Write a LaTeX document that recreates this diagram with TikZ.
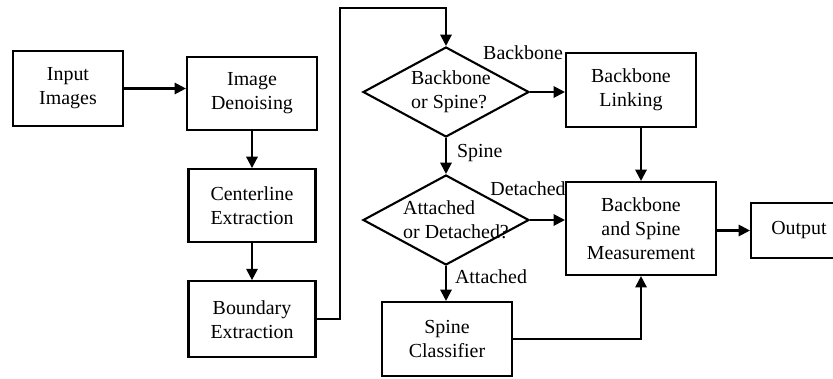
\documentclass[tikz,border=0pt]{standalone}
\usepackage{fontspec}
\setmainfont{Liberation Serif}
\usepackage{tikz}
\usetikzlibrary{positioning,arrows.meta,shapes.geometric,calc}
\tikzset{
  flow/.style={rectangle,draw=black,line width=1.8pt,align=center,inner sep=0pt,font=\fontsize{17}{20.5}\selectfont},
  decision/.style={diamond,draw=black,line width=1.8pt,inner sep=0pt,minimum width=49.8mm,minimum height=27mm},
  dtext/.style={align=left,inner sep=0pt,font=\fontsize{17}{20.5}\selectfont},
  tag/.style={inner sep=0pt,font=\fontsize{17}{20.5}\selectfont},
  edge/.style={-{Triangle[length=3.4mm,width=3.4mm]},line width=1.8pt}
}
\begin{document}
\begin{tikzpicture}[x=0.3mm,y=-0.3mm,node distance=11.1mm]
  \useasboundingbox (0,0) rectangle (833,378);
  \node[flow,minimum width=33mm,minimum height=22.5mm] (input) at (68,88.5) {Input\\Images};
  \node[flow,minimum width=39mm,minimum height=21.9mm] (denoise) at (252,93.5) {Image\\Denoising};
  \node[flow,minimum width=38.1mm,minimum height=21.9mm,below=of denoise] (center) {Centerline\\Extraction};
  \node[flow,minimum width=38.1mm,minimum height=22.8mm,below=of center] (bound) {Boundary\\Extraction};

  \node[decision,label={[dtext,xshift=1.5mm]center:Backbone\\or Spine?}] (dec1) at (446,92) {};
  \node[decision,label={[dtext,xshift=3mm]center:Attached\\or Detached?}] (dec2) at (446,220) {};
  \node[flow,minimum width=39mm,minimum height=22.2mm] (link) at (631,90) {Backbone\\Linking};
  \node[flow,minimum width=45mm,minimum height=27.9mm] (meas) at (641,228.5) {Backbone\\and Spine\\Measurement};
  \node[flow,minimum width=28.8mm,minimum height=16.5mm] (out) at (799,230.5) {Output};
  \node[flow,minimum width=39mm,minimum height=22.2mm] (class) at (447,339) {Spine\\Classifier};

  \coordinate (turn) at (340,8);

  \draw[edge] (input.east) -- (input.east -| denoise.west);
  \draw[edge] (denoise) -- (center);
  \draw[edge] (center) -- (bound);
  \draw[edge] (bound.east) -| (turn) -| (dec1.north);
  \draw[edge] (dec1.east) -- node[tag,at start,xshift=-2.1mm,yshift=11.7mm]{Backbone} (dec1.east -| link.west);
  \draw[edge] (dec1.south) -- node[tag,right=3mm,yshift=0.9mm]{Spine} (dec2.north);
  \draw[edge] (dec2.east) -- node[tag,at start,xshift=-0.6mm,yshift=9.3mm]{Detached} (dec2.east -| meas.west);
  \draw[edge] (dec2.south) -- node[tag,right=2.4mm,yshift=2mm]{Attached} (dec2.south |- class.north);
  \draw[edge] (meas.north |- link.south) -- (meas.north);
  \draw[edge] (meas.east |- out.west) -- (out.west);
  \draw[edge] (class.east) -| (meas.south);
\end{tikzpicture}
\end{document}
